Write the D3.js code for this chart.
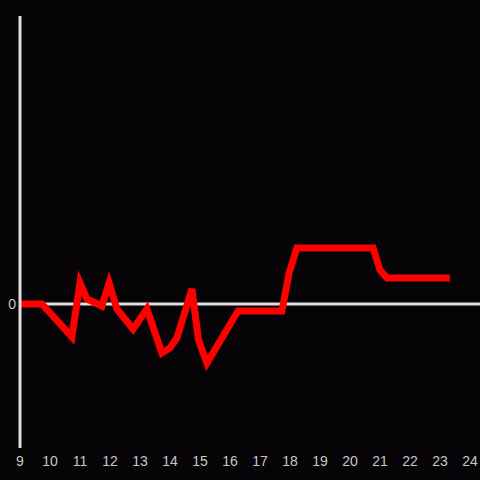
<!DOCTYPE html>
<html>
<head>
<meta charset="utf-8">
<script src="https://cdn.jsdelivr.net/npm/d3@7"></script>
<style>
  html, body { margin: 0; padding: 0; background: #060406; }
  svg { display: block; }
</style>
</head>
<body>
<div id="chart"></div>
<script>
// hours of the day (x) and value (y)
var hours = [9, 9.73, 10.73, 11, 11.23, 11.73, 11.97, 12.23, 12.77, 13.23, 13.73, 14, 14.23,
             14.73, 14.95, 15.23, 16.27, 17.73, 17.97, 18.23, 20.77, 21, 21.23, 23.33];
var values = [0, 0, -2.29, 1.46, 0.35, -0.14, 1.46, -0.35, -1.74, -0.35, -3.4, -3.05, -2.36,
              1.04, -2.5, -4.1, -0.49, -0.49, 2.15, 3.89, 3.89, 2.36, 1.81, 1.81];
var xTicks = d3.range(9, 25);
var yTicks = [0];

var w = 480, h = 480;

var svg = d3.select("#chart").append("svg")
    .attr("width", w)
    .attr("height", h);

svg.append("rect")
    .attr("width", w)
    .attr("height", h)
    .attr("fill", "#060406");

var x = d3.scaleLinear().domain([9, 24]).range([20, 470]);
var y = d3.scaleLinear().domain([-10, 20]).range([448, 16]);

var pts = hours.map(function(d, i) { return [d, values[i]]; });

// zero line (under the data)
svg.append("line")
    .attr("x1", x(9)).attr("x2", w)
    .attr("y1", y(0)).attr("y2", y(0))
    .attr("stroke", "#e0e0e0")
    .attr("stroke-width", 3);

// red line
svg.append("path")
    .datum(pts)
    .attr("d", d3.line().x(d => x(d[0])).y(d => y(d[1])))
    .attr("fill", "none")
    .attr("stroke", "#ff0000")
    .attr("stroke-width", 7)
    .attr("stroke-linejoin", "miter");

// vertical axis line
svg.append("line")
    .attr("x1", x(9)).attr("x2", x(9))
    .attr("y1", 16).attr("y2", 448)
    .attr("stroke", "#e0e0e0")
    .attr("stroke-width", 3);

// x labels
svg.selectAll(".xl")
    .data(xTicks)
    .enter()
    .append("text")
    .attr("class", "xl")
    .attr("x", d => x(d))
    .attr("y", 461)
    .attr("dy", "0.36em")
    .attr("text-anchor", "middle")
    .attr("font-family", "Liberation Sans, Arial, sans-serif")
    .attr("font-size", 14)
    .attr("fill", "#c8c8c8")
    .text(d => d);

// y labels
svg.selectAll(".yl")
    .data(yTicks)
    .enter()
    .append("text")
    .attr("class", "yl")
    .attr("x", 16)
    .attr("y", d => y(d))
    .attr("dy", "0.36em")
    .attr("text-anchor", "end")
    .attr("font-family", "Liberation Sans, Arial, sans-serif")
    .attr("font-size", 14)
    .attr("fill", "#c8c8c8")
    .text(d => d);
</script>
</body>
</html>
